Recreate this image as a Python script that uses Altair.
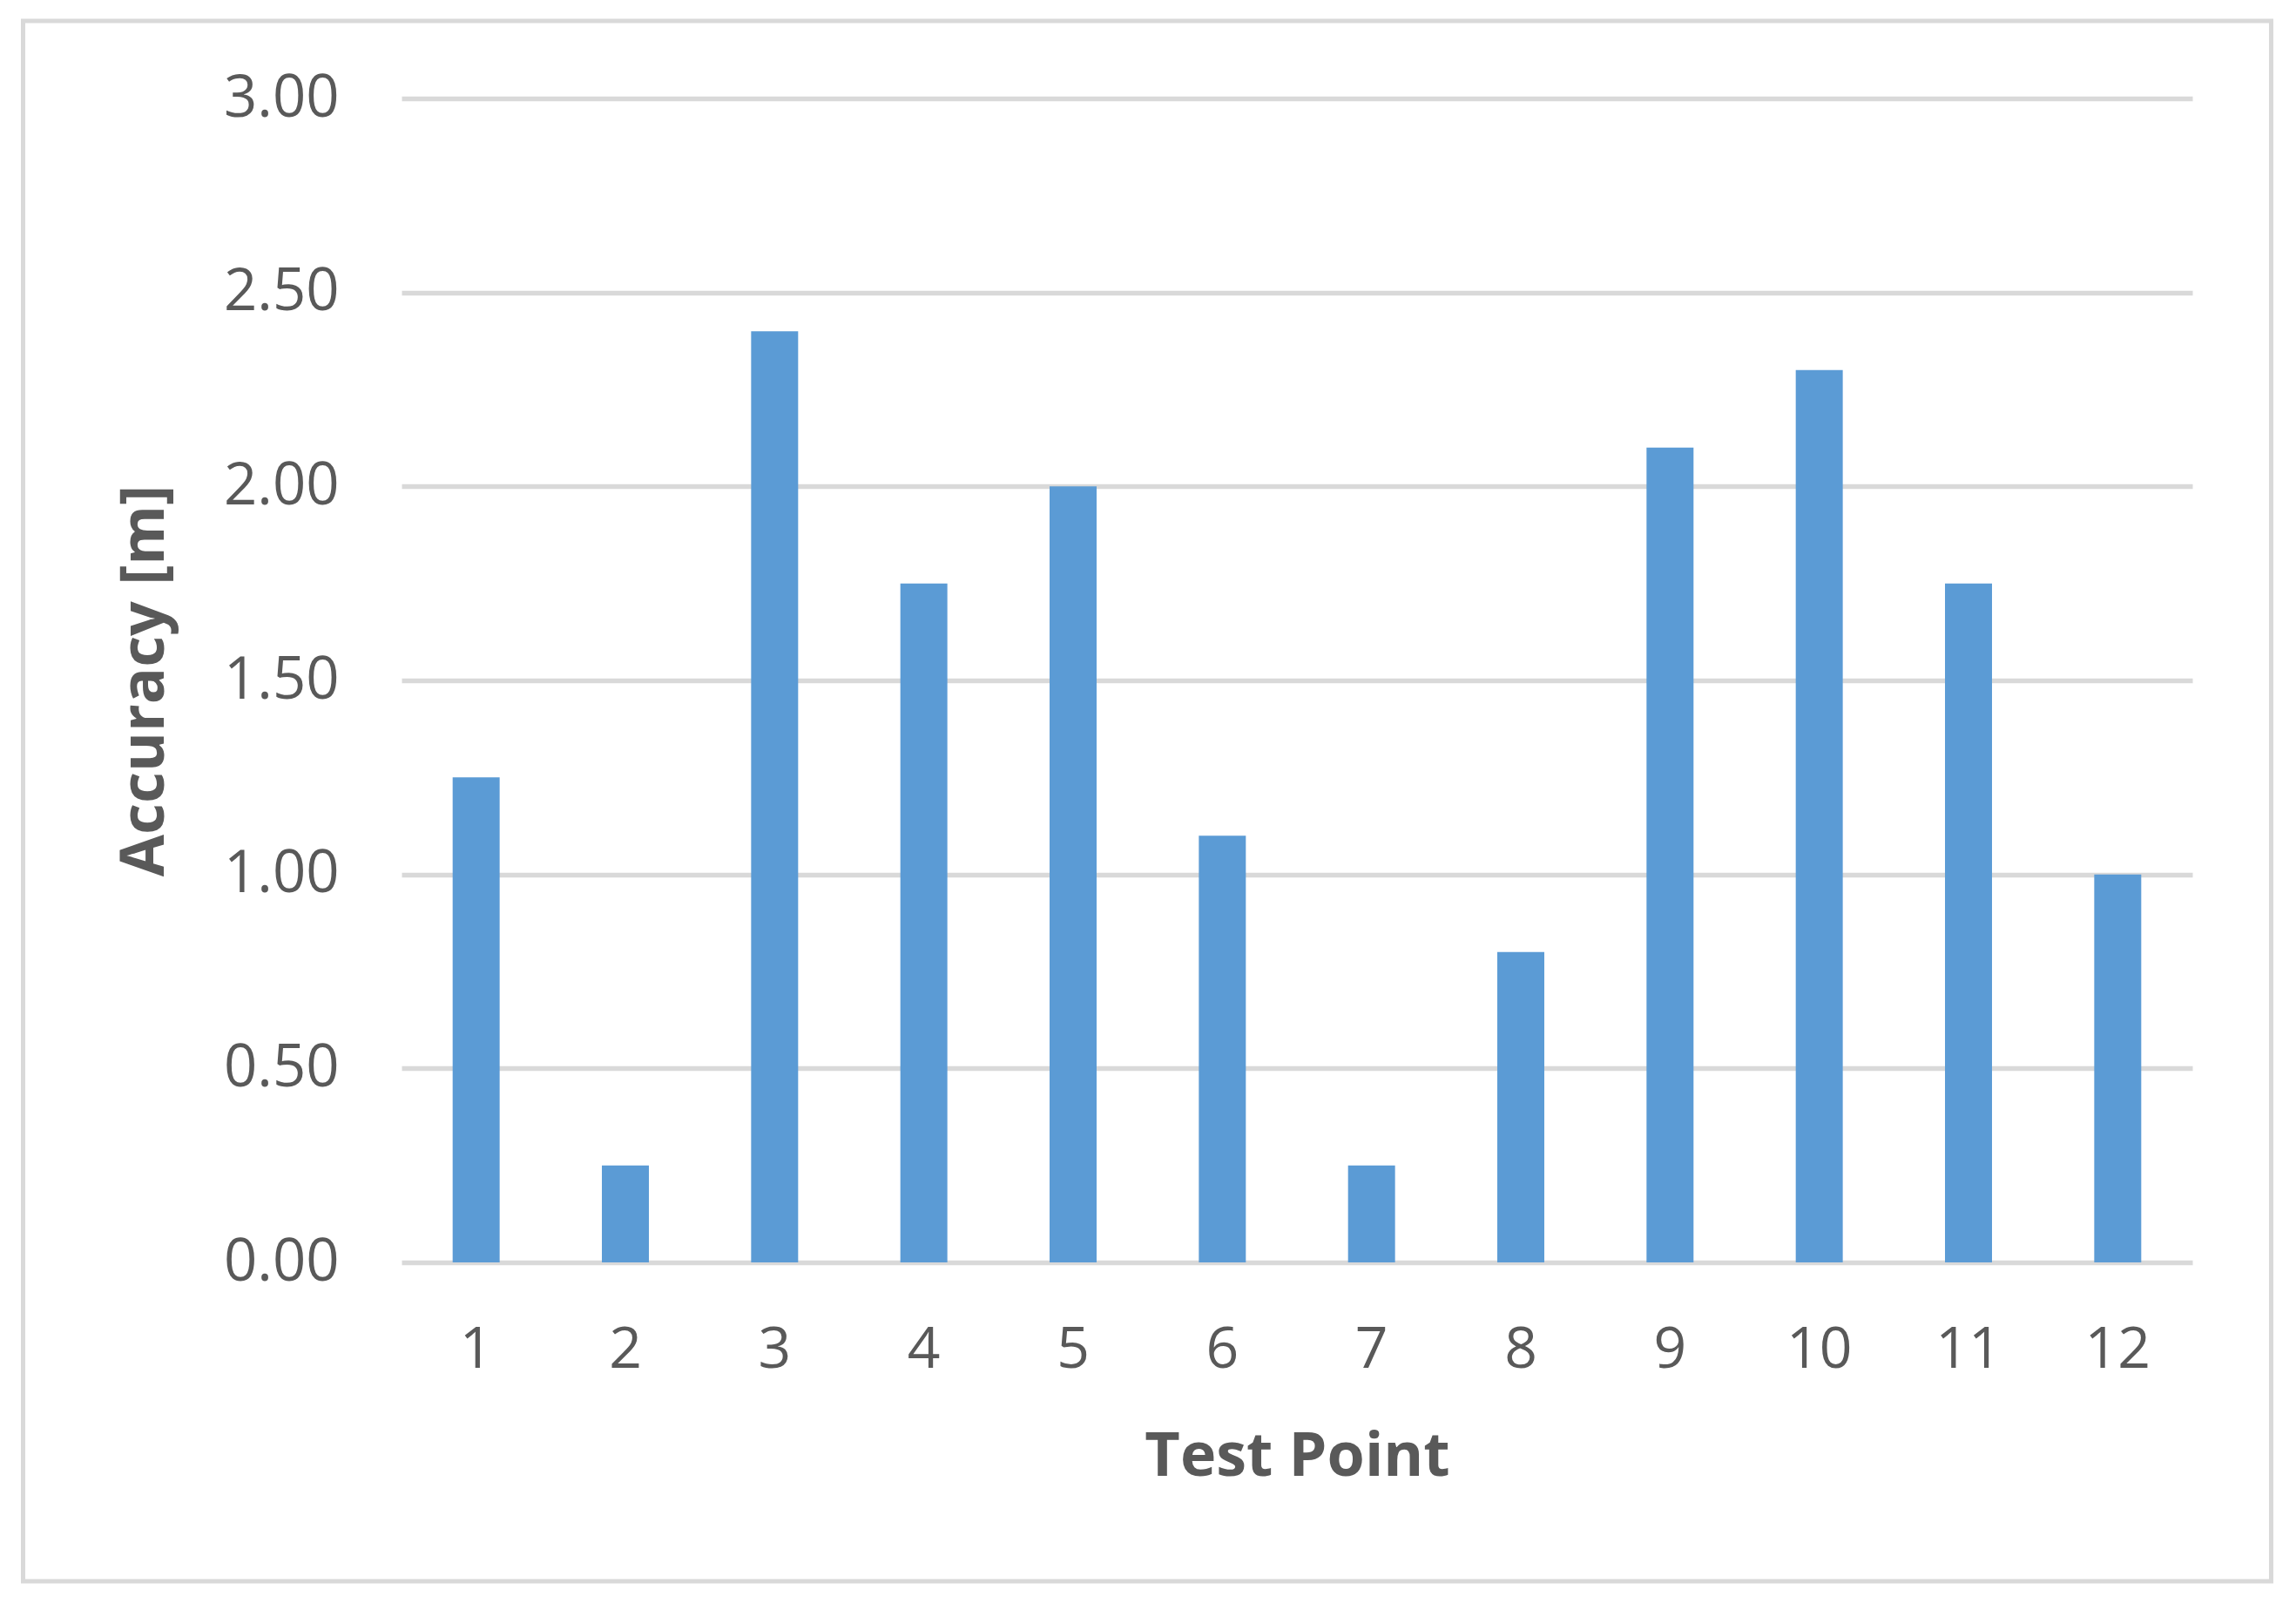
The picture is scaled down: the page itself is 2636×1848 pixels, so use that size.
import altair as alt
import pandas as pd

test_points = ["1", "2", "3", "4", "5", "6", "7", "8", "9", "10", "11", "12"]
accuracy = [1.25, 0.25, 2.40, 1.75, 2.00, 1.10, 0.25, 0.80, 2.10, 2.30, 1.75, 1.00]
y_ticks = [0.0, 0.5, 1.0, 1.5, 2.0, 2.5, 3.0]

df = pd.DataFrame({"Test Point": test_points, "Accuracy": accuracy})

FONT = "Open Sans"
TXT = "#595959"
GRID = "#d9d9d9"
W, H = 2056, 1336

bars = alt.Chart(df).mark_bar(color="#5b9bd5").encode(
    x=alt.X(
        "Test Point:N",
        sort=test_points,
        scale=alt.Scale(paddingInner=0.685, paddingOuter=0.3425),
        axis=alt.Axis(
            title="Test Point",
            labelAngle=0,
            labelFont=FONT,
            labelFontSize=66,
            labelColor=TXT,
            labelBaseline="alphabetic",
            labelPadding=120,
            ticks=False,
            tickSize=0,
            domain=False,
            grid=False,
            titleFont=FONT,
            titleFontSize=70,
            titleFontWeight="bold",
            titleColor=TXT,
            titleBaseline="alphabetic",
            titleAnchor="middle",
            titleX=W / 2,
            titleY=244,
        ),
    ),
    y=alt.Y(
        "Accuracy:Q",
        scale=alt.Scale(domain=[0, 3], nice=False, zero=True),
        axis=alt.Axis(
            title="Accuracy [m]",
            values=y_ticks,
            format=".2f",
            labelFont=FONT,
            labelFontSize=67,
            labelColor=TXT,
            labelBaseline="middle",
            labelPadding=72,
            ticks=False,
            tickSize=0,
            domain=False,
            grid=True,
            gridColor=GRID,
            gridWidth=5.5,
            titleFont=FONT,
            titleFontSize=70,
            titleFontWeight="bold",
            titleColor=TXT,
            titleAngle=270,
            titleAlign="center",
            titleBaseline="alphabetic",
            titleX=-274,
            titleY=H / 2,
        ),
    ),
)

border = alt.Chart(pd.DataFrame({"a": [0]})).mark_rect(
    fill="transparent", stroke=GRID, strokeWidth=5, clip=False
).encode(
    x=alt.value(-434.5),
    x2=alt.value(2146.5),
    y=alt.value(-89),
    y2=alt.value(1702),
)

chart = (
    alt.layer(bars, border)
    .properties(
        width=W,
        height=H,
        autosize=alt.AutoSizeParams(type="none"),
        padding={"left": 453, "top": 105, "right": 100, "bottom": 390},
        background="white",
    )
    .configure_view(stroke=None)
)

chart.save("out.html", embed_options={"renderer": "svg", "actions": False})
